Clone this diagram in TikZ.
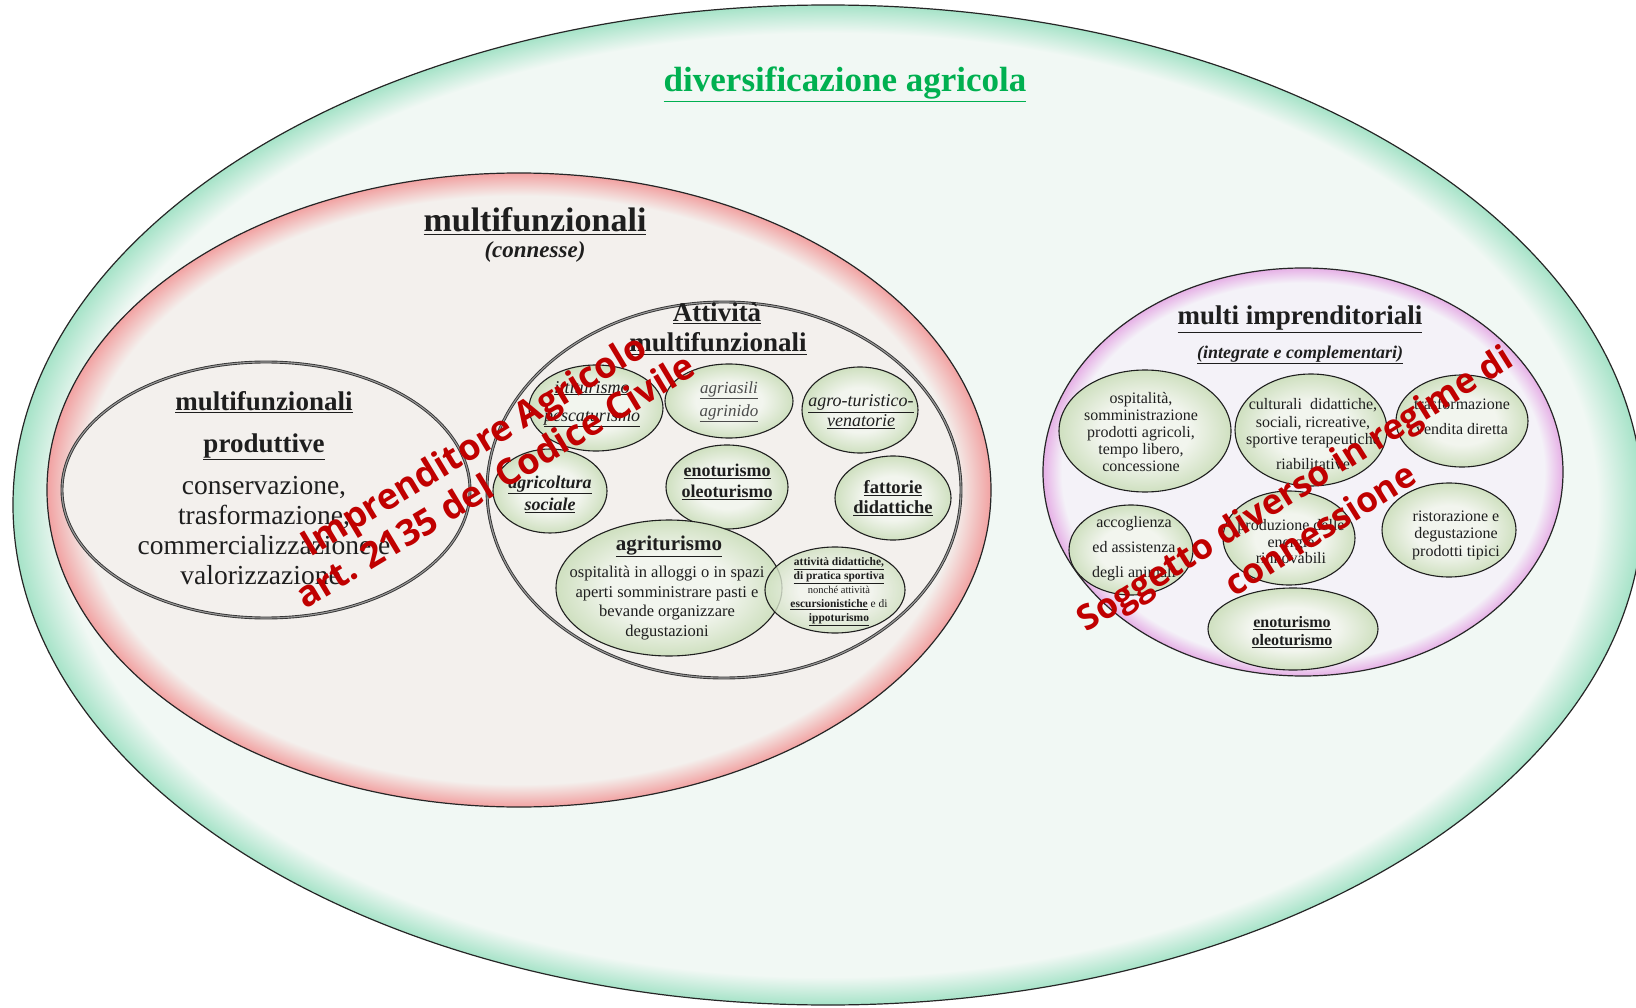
\documentclass[tikz,border=0pt]{standalone}
\usepackage{fontspec}
\setmainfont{Liberation Serif}
\newfontfamily\redfont{Open Sans}
\usetikzlibrary{shapes.geometric}
\definecolor{mintin}{HTML}{F1F8F4}
\definecolor{mintedge}{HTML}{A6E3C8}
\definecolor{warmin}{HTML}{F3F0ED}
\definecolor{pinkedge}{HTML}{F2A2A2}
\definecolor{lavin}{HTML}{F4F2F8}
\definecolor{lavedge}{HTML}{E6B0E6}
\definecolor{bubin}{HTML}{F2F5EE}
\definecolor{bubedge}{HTML}{CFE0C0}
\definecolor{titlegreen}{HTML}{00B050}
\definecolor{redlab}{HTML}{C00000}
\definecolor{inktext}{HTML}{1E1E1E}
\pgfdeclareradialshading{greenglow}{\pgfpoint{0bp}{0bp}}{color(0bp)=(mintin); color(23.6bp)=(mintin); color(25bp)=(mintedge); color(50bp)=(mintedge)}
\pgfdeclareradialshading{pinkglow}{\pgfpoint{0bp}{0bp}}{color(0bp)=(warmin); color(23.2bp)=(warmin); color(25bp)=(pinkedge); color(50bp)=(pinkedge)}
\pgfdeclareradialshading{lavglow}{\pgfpoint{0bp}{0bp}}{color(0bp)=(lavin); color(23.2bp)=(lavin); color(25bp)=(lavedge); color(50bp)=(lavedge)}
\pgfdeclareradialshading{bubshade}{\pgfpoint{0bp}{0bp}}{color(0bp)=(bubin); color(13bp)=(bubin); color(25bp)=(bubedge); color(50bp)=(bubedge)}
\newcommand{\fz}[2]{\fontsize{#1}{#2}\selectfont}
\newcommand{\myul}[1]{\underline{#1}}
\tikzset{
  blob/.style={ellipse, inner sep=0pt, outer sep=0pt},
  bigring/.style={blob, draw=black!85, line width=1.2pt},
  dbl/.style={blob, draw=black!80, line width=0.9pt, double=black!40, double distance=1.1pt, fill=warmin},
  bubble/.style={blob, draw=black!88, line width=1.1pt, shading=bubshade},
  lbl/.style={align=center, inner sep=0pt, text=inktext},
  redtxt/.style={align=center, inner sep=0pt, text=redlab}
}
\begin{document}
\begin{tikzpicture}[x=1pt,y=-1pt]
\useasboundingbox (0,0) rectangle (1636,1008);
\fill[white] (0,0) rectangle (1636,1008);
% big ellipses
\node[bigring, shading=greenglow, minimum width=1630, minimum height=1000] (outer) at (828,505) {};
\node[bigring, shading=pinkglow, minimum width=944, minimum height=634] (conn) at (519,490) {};
\node[dbl, minimum width=408, minimum height=256] (prod) at (266,490) {};
\node[dbl, minimum width=474, minimum height=376] (attiv) at (724,490) {};
\node[bigring, shading=lavglow, minimum width=520, minimum height=408] (impr) at (1303,472) {};
% bubbles left
\node[bubble, minimum width=134, minimum height=86] (itti) at (596,408) {};
\node[bubble, minimum width=128, minimum height=74] (asili) at (729,401) {};
\node[bubble, minimum width=116, minimum height=86] (agrotur) at (860,410) {};
\node[bubble, minimum width=114, minimum height=84] (agrsoc) at (550,491) {};
\node[bubble, minimum width=122, minimum height=84] (eno) at (727,487) {};
\node[bubble, minimum width=116, minimum height=84] (fatt) at (893,498) {};
\node[bubble, minimum width=226, minimum height=136] (agritur) at (669,588) {};
\node[bubble, fill opacity=0.8, minimum width=140, minimum height=86] (didat) at (835,590) {};
% bubbles right
\node[bubble, minimum width=172, minimum height=122] (osp) at (1145,431) {};
\node[bubble, minimum width=152, minimum height=112] (cult) at (1311,430) {};
\node[bubble, minimum width=132, minimum height=92] (trasf) at (1462,421) {};
\node[bubble, minimum width=124, minimum height=90] (accog) at (1131,550) {};
\node[bubble, minimum width=132, minimum height=94] (prodz) at (1289,538) {};
\node[bubble, minimum width=134, minimum height=94] (rist) at (1449,530) {};
\node[bubble, minimum width=170, minimum height=82] (enor) at (1293,629) {};
% titles
\node[lbl, anchor=base, text=titlegreen, font=\bfseries\fz{35}{40}] (ttl) at (845,92) {\myul{diversificazione agricola}};
\node[lbl, anchor=base, font=\bfseries\fz{34}{38}] (tconn) at (535,232) {\myul{multifunzionali}};
\node[lbl, anchor=base, font=\bfseries\itshape\fz{23}{26}] (tconn2) at (535,258) {(connesse)};
\node[lbl, anchor=base, font=\bfseries\fz{27}{30}] (tatt1) at (717,322) {\myul{Attività}};
\node[lbl, anchor=base, font=\bfseries\fz{27}{30}] (tatt2) at (718,352) {\myul{multifunzionali}};
\node[lbl, anchor=base, font=\bfseries\fz{27}{30}] (tprod1) at (264,410) {\myul{multifunzionali}};
\node[lbl, anchor=base, font=\bfseries\fz{27}{30}] (tprod2) at (264,452) {\myul{produttive}};
\node[lbl, font=\fz{27.5}{30}] (tprod3) at (264,531) {conservazione,\\trasformazione,\\commercializzazione e\\valorizzazione.};
\node[lbl, anchor=base, font=\bfseries\fz{27}{30}] (timpr1) at (1300,325) {\myul{multi imprenditoriali}};
\node[lbl, anchor=base, font=\bfseries\itshape\fz{18}{20}] (timpr2) at (1300,358) {\myul{(integrate e complementari)}};
% left bubble texts
\node[lbl, font=\itshape\fz{18}{28}] (litti) at (592,404) {\myul{ittiturismo}\\\myul{pescaturismo}};
\node[lbl, text=black!70, font=\itshape\fz{17}{23}] (lasili) at (729,402) {\myul{agriasili}\\\myul{agrinido}};
\node[lbl, font=\itshape\fz{18}{20}] (lagro) at (861,412) {\myul{agro-turistico-}\\\myul{venatorie}};
\node[lbl, font=\bfseries\itshape\fz{18}{22}] (lsoc) at (550,494) {\myul{agricoltura}\\\myul{sociale}};
\node[lbl, font=\bfseries\fz{18}{21}] (leno) at (727,482) {\myul{enoturismo}\\\myul{oleoturismo}};
\node[lbl, font=\bfseries\fz{18.5}{20}] (lfatt) at (893,498) {\myul{fattorie}\\\myul{didattiche}};
\node[lbl, anchor=base, font=\bfseries\fz{21}{24}] (lagrit1) at (669,550) {\myul{agriturismo}};
\node[lbl, font=\fz{16.5}{19.7}] (lagrit2) at (667,603) {ospitalità in alloggi o in spazi\\aperti somministrare pasti e\\bevande organizzare\\degustazioni};
\node[lbl, font=\fz{11.5}{14}] (ldidat) at (839,592) {\textbf{\myul{attività didattiche,}}\\\textbf{\myul{di pratica sportiva}}\\{\fz{10.5}{14}nonché attività}\\\textbf{\myul{escursionistiche}} e di\\\textbf{\myul{ippoturismo}}};
% right bubble texts
\node[lbl, font=\fz{16}{17}] (rosp) at (1141,432) {ospitalità,\\somministrazione\\prodotti agricoli,\\tempo libero,\\concessione};
\node[lbl, font=\fz{16}{17.5}] (rcult) at (1313,434) {culturali\ \ didattiche,\\sociali, ricreative,\\sportive terapeutiche\\[7pt]riabilitative};
\node[lbl, font=\fz{16}{25}] (rtrasf) at (1462,416) {trasformazione\\vendita diretta};
\node[lbl, font=\fz{16}{25}] (raccog) at (1134,549) {accoglienza\\ed assistenza\\degli animali};
\node[lbl, font=\fz{16}{16.5}] (rprodz) at (1291,542) {produzione delle\\energie\\rinnovabili};
\node[lbl, font=\fz{16}{17.5}] (rrist) at (1456,535) {ristorazione e\\degustazione\\prodotti tipici};
\node[lbl, font=\bfseries\fz{16}{18}] (reno) at (1292,632) {\myul{enoturismo}\\\myul{oleoturismo}};
% red overlays
\node[redtxt, rotate=31, font=\redfont\bfseries\fz{36}{42}] (red1) at (484,462) {Imprenditore Agricolo\\art. 2135 del Codice Civile};
\node[redtxt, rotate=32, font=\redfont\bfseries\fz{35}{48}] (red2) at (1307,508) {Soggetto diverso in regime di\\connessione};
\end{tikzpicture}
\end{document}
